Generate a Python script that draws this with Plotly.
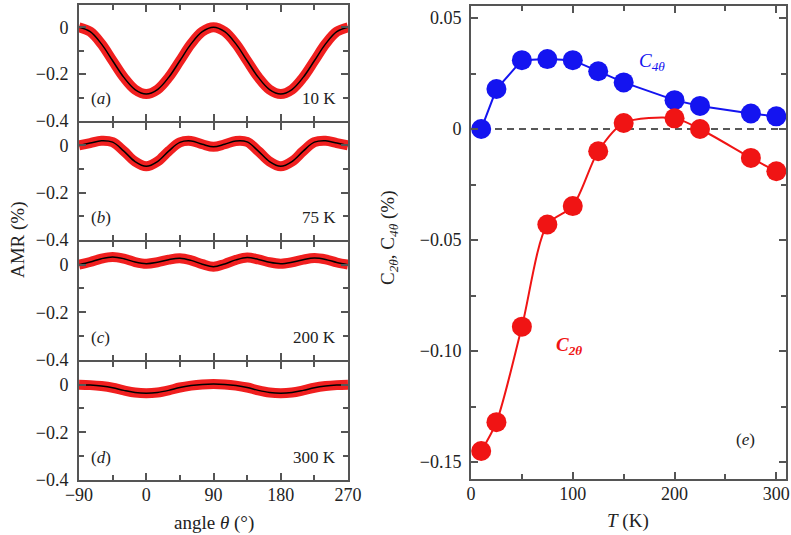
import plotly.graph_objects as go

W, H = 791, 535

# ---------------- data ----------------
angle = [-90, -75, -60, -45, -30, -15, 0, 15, 30, 45, 60, 75, 90,
         105, 120, 135, 150, 165, 180, 195, 210, 225, 240, 255, 270]

amr_10K = [0, -0.019, -0.071, -0.143, -0.214, -0.266, -0.285, -0.266, -0.214, -0.143, -0.071, -0.019, 0,
           -0.019, -0.071, -0.143, -0.214, -0.266, -0.285, -0.266, -0.214, -0.143, -0.071, -0.019, 0]
amr_75K = [0, 0.010, 0.020, 0.014, -0.024, -0.068, -0.088, -0.068, -0.024, 0.013, 0.019, 0.005, -0.006,
           0.005, 0.019, 0.015, -0.024, -0.068, -0.088, -0.068, -0.024, 0.014, 0.020, 0.010, 0]
amr_200K = [0, 0.011, 0.025, 0.032, 0.025, 0.011, 0.004, 0.010, 0.021, 0.027, 0.018, 0.002, -0.009,
            0.003, 0.020, 0.030, 0.022, 0.010, 0.004, 0.010, 0.021, 0.028, 0.022, 0.009, 0]
amr_300K = [0, -0.002, -0.006, -0.013, -0.024, -0.033, -0.036, -0.033, -0.024, -0.012, -0.004, 0.001, 0.003,
            0.001, -0.004, -0.012, -0.024, -0.033, -0.036, -0.033, -0.024, -0.013, -0.006, -0.002, 0]

T_K = [10, 25, 50, 75, 100, 125, 150, 200, 225, 275, 300]
C4 = [0.0, 0.018, 0.031, 0.0315, 0.031, 0.026, 0.021, 0.013, 0.0104, 0.007, 0.0057]
C2 = [-0.145, -0.132, -0.089, -0.043, -0.0347, -0.010, 0.0027, 0.0048, 0.0, -0.013, -0.019]

panel_labels = ["(<i>a</i>)", "(<i>b</i>)", "(<i>c</i>)", "(<i>d</i>)"]
temp_labels = ["10 K", "75 K", "200 K", "300 K"]

# ---------------- layout helpers ----------------
def fx(px):
    return px / W

def fy(py):
    return 1 - py / H

FONT = "Liberation Serif"
AX = "#555555"
TXT = "#222222"
RED = "#f01414"
BLUE = "#1414f0"
TICK = 18

fig = go.Figure()

left_x = [fx(79), fx(348)]
# domains in px from top (axis lines are drawn just outside the domain)
panel_y = [(5, 121), (123, 240), (242, 360), (362, 480)]
series = [amr_10K, amr_75K, amr_200K, amr_300K]

for i, vals in enumerate(series):
    n = "" if i == 0 else str(i + 1)
    xa, ya = "x" + n, "y" + n
    fig.add_trace(go.Scatter(x=angle, y=vals, mode="lines", line=dict(color=RED, width=10, shape="spline", smoothing=1.0),
                             opacity=0.95, xaxis=xa, yaxis=ya, showlegend=False, hoverinfo="skip"))
    fig.add_trace(go.Scatter(x=angle, y=vals, mode="lines", line=dict(color="black", width=1.5, shape="spline", smoothing=1.0),
                             xaxis=xa, yaxis=ya, showlegend=False))
    top, bot = panel_y[i]
    fig.layout["xaxis" + n] = dict(
        domain=left_x, anchor=ya, range=[-90, 270], automargin=False,
        tickmode="array", tickvals=[-90, 0, 90, 180, 270], ticktext=["\u221290", "0", "90", "180", "270"],
        showticklabels=(i == 3), ticks="inside", ticklen=7, tickwidth=1.5, tickcolor=AX,
        minor=dict(tickmode="array", tickvals=[-45, 45, 135, 225], ticks="inside", ticklen=5, tickwidth=1.5, tickcolor=AX),
        showline=True, linecolor=AX, linewidth=2, mirror="allticks", showgrid=False, zeroline=False,
        tickfont=dict(family=FONT, size=TICK, color=TXT), ticklabelstandoff=-3,
    )
    fig.layout["yaxis" + n] = dict(
        domain=[fy(bot), fy(top)], anchor=xa, range=[-0.4, 0.095], automargin=False,
        tickmode="array", tickvals=[-0.4, -0.2, 0], ticktext=["\u22120.4", "\u22120.2", "0"],
        ticks="inside", ticklen=7, tickwidth=1.5, tickcolor=AX,
        minor=dict(tickmode="array", tickvals=[-0.3, -0.1], ticks="inside", ticklen=5, tickwidth=1.5, tickcolor=AX),
        showline=True, linecolor=AX, linewidth=2, mirror="allticks", showgrid=False, zeroline=False,
        tickfont=dict(family=FONT, size=TICK, color=TXT), ticklabelstandoff=5,
    )
    fig.add_annotation(x=-76, y=-0.305, xref=xa, yref=ya, text=panel_labels[i], showarrow=False,
                       xanchor="left", yanchor="middle", font=dict(family=FONT, size=17, color=TXT))
    fig.add_annotation(x=256, y=-0.305, xref=xa, yref=ya, text=temp_labels[i], showarrow=False,
                       xanchor="right", yanchor="middle", font=dict(family=FONT, size=17, color=TXT))

# right panel
fig.add_trace(go.Scatter(x=T_K, y=C4, mode="lines+markers", line=dict(color=BLUE, width=2),
                         marker=dict(color=BLUE, size=20), xaxis="x5", yaxis="y5", showlegend=False))
fig.add_trace(go.Scatter(x=T_K, y=C2, mode="lines", line=dict(color=RED, width=2, shape="spline", smoothing=0.8),
                         xaxis="x5", yaxis="y5", showlegend=False, hoverinfo="skip"))
fig.add_trace(go.Scatter(x=T_K, y=C2, mode="markers",
                         marker=dict(color=RED, size=20), xaxis="x5", yaxis="y5", showlegend=False))

fig.layout["xaxis5"] = dict(
    domain=[fx(471), fx(786)], anchor="y5", range=[0, 309.5], automargin=False,
    tickmode="array", tickvals=[0, 100, 200, 300],
    ticks="inside", ticklen=7, tickwidth=1.5, tickcolor=AX,
    minor=dict(tickmode="array", tickvals=[50, 150, 250], ticks="inside", ticklen=5, tickwidth=1.5, tickcolor=AX),
    showline=True, linecolor=AX, linewidth=2, mirror="allticks", showgrid=False, zeroline=False,
    tickfont=dict(family=FONT, size=TICK, color=TXT), ticklabelstandoff=-3,
)
fig.layout["yaxis5"] = dict(
    domain=[fy(479), fy(6)], anchor="x5", range=[-0.1576, 0.0554], automargin=False,
    tickmode="array", tickvals=[-0.15, -0.10, -0.05, 0, 0.05],
    ticktext=["\u22120.15", "\u22120.10", "\u22120.05", "0", "0.05"],
    ticks="inside", ticklen=7, tickwidth=1.5, tickcolor=AX,
    minor=dict(tickmode="array", tickvals=[-0.125, -0.075, -0.025, 0.025], ticks="inside", ticklen=5, tickwidth=1.5, tickcolor=AX),
    showline=True, linecolor=AX, linewidth=2, mirror="allticks", showgrid=False, zeroline=False,
    tickfont=dict(family=FONT, size=TICK, color=TXT), ticklabelstandoff=4,
)

fig.add_shape(type="line", xref="x5 domain", yref="y5", x0=0, x1=1, y0=0, y1=0,
              line=dict(color=TXT, width=1.5, dash="7px,5px"), layer="below")

fig.add_annotation(x=178, y=0.030, xref="x5", yref="y5", text="<i>C</i><sub><i>4θ</i></sub>", showarrow=False,
                   xanchor="center", yanchor="middle", font=dict(family=FONT, size=19, color=BLUE))
fig.add_annotation(x=96, y=-0.0975, xref="x5", yref="y5", text="<b><i>C</i></b><sub><b><i>2θ</i></b></sub>", showarrow=False,
                   xanchor="center", yanchor="middle", font=dict(family=FONT, size=19, color=RED))
fig.add_annotation(x=270, y=-0.140, xref="x5", yref="y5", text="(<i>e</i>)", showarrow=False,
                   xanchor="center", yanchor="middle", font=dict(family=FONT, size=17, color=TXT))

# axis titles
fig.add_annotation(x=fx(214), y=fy(523), xref="paper", yref="paper", text="angle <i>θ</i> (°)", showarrow=False,
                   xanchor="center", yanchor="middle", font=dict(family=FONT, size=19, color=TXT))
fig.add_annotation(x=fx(628), y=fy(521), xref="paper", yref="paper", text="<i>T</i> (K)", showarrow=False,
                   xanchor="center", yanchor="middle", font=dict(family=FONT, size=19, color=TXT))
fig.add_annotation(x=fx(18), y=fy(240), xref="paper", yref="paper", text="AMR (%)", textangle=-90, showarrow=False,
                   xanchor="center", yanchor="middle", font=dict(family=FONT, size=19, color=TXT))
fig.add_annotation(x=fx(389), y=fy(238), xref="paper", yref="paper",
                   text="C<sub><i>2θ</i></sub>, C<sub><i>4θ</i></sub> (%)", textangle=-90, showarrow=False,
                   xanchor="center", yanchor="middle", font=dict(family=FONT, size=19, color=TXT))

fig.update_layout(template="none", width=W, height=H, margin=dict(l=0, r=0, t=0, b=0, autoexpand=False),
                  font=dict(family=FONT, color=TXT),
                  paper_bgcolor="white", plot_bgcolor="white")

fig.write_html("out.html", config={"displayModeBar": False},
               post_script="document.body.style.margin='0';document.body.style.overflow='hidden';")
